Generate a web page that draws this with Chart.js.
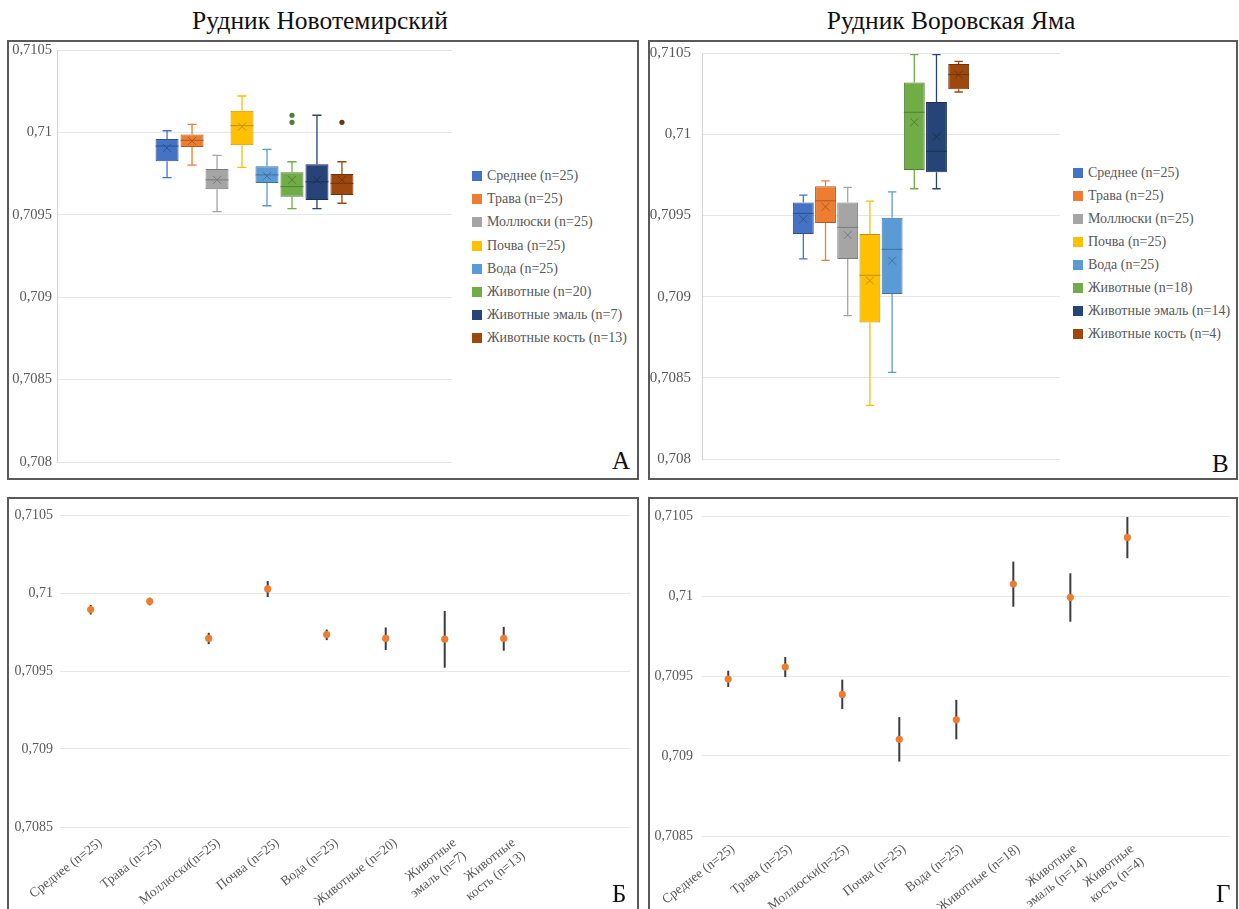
<!DOCTYPE html>
<html lang="ru">
<head>
<meta charset="utf-8">
<title>Рудник Новотемирский / Рудник Воровская Яма</title>
<script src="https://cdn.jsdelivr.net/npm/chart.js@4.4.1/dist/chart.umd.min.js"></script>
<style>
  html, body { margin: 0; padding: 0; }
  body { width: 1239px; height: 909px; position: relative; overflow: hidden; background: #fff;
         font-family: 'Liberation Serif', 'Times New Roman', serif; }
  .title { position: absolute; top: 8px; width: 400px; text-align: center; font-size: 25.5px; line-height: 26px; color: #111; }
  .panel { position: absolute; box-sizing: border-box; border: 2px solid #5a5a5a; background: #fff; }
  .panel canvas { position: absolute; left: 0; top: 0; }
  .letter { position: absolute; font-size: 25px; line-height: 25px; color: #111; }
  .lg { position: absolute; white-space: nowrap; font-size: 14px; line-height: 16px; color: #595959; }
  .lg i { display: inline-block; width: 10px; height: 10px; margin-right: 5px; vertical-align: -1px; }
</style>
</head>
<body>
<div class="title" style="left:120px">Рудник Новотемирский</div>
<div class="title" style="left:751px">Рудник Воровская Яма</div>

<div class="panel" id="pA" style="left:7px; top:40px; width:632px; height:440px;">
  <canvas id="chartA" width="455" height="436"></canvas>
</div>
<div class="panel" id="pB" style="left:648px; top:40px; width:590px; height:440px;">
  <canvas id="chartB" width="420" height="436"></canvas>
</div>
<div class="panel" id="pC" style="left:7px; top:497px; width:632px; height:420px;">
  <canvas id="chartC" width="628" height="410"></canvas>
</div>
<div class="panel" id="pD" style="left:648px; top:497px; width:590px; height:420px;">
  <canvas id="chartD" width="586" height="410"></canvas>
</div>

<div class="letter" style="left:612px; top:448px;">А</div>
<div class="letter" style="left:1212px; top:451px;">В</div>
<div class="letter" style="left:612px; top:881px;">Б</div>
<div class="letter" style="left:1216px; top:881px;">Г</div>

<script>
// ---- data: box plots (А — Новотемирский, В — Воровская Яма) ----
const namesA = ['Среднее (n=25)', 'Трава (n=25)', 'Моллюски (n=25)', 'Почва (n=25)', 'Вода (n=25)',
                'Животные (n=20)', 'Животные эмаль (n=7)', 'Животные кость (n=13)'];
const minA  = [0.709725, 0.709802, 0.709519, 0.709788, 0.709555, 0.709537, 0.709537, 0.709570];
const q1A   = [0.709825, 0.709911, 0.709655, 0.709922, 0.709693, 0.709610, 0.709590, 0.709620];
const medA  = [0.709917, 0.709952, 0.709712, 0.710041, 0.709742, 0.709671, 0.709700, 0.709691];
const q3A   = [0.709960, 0.709988, 0.709778, 0.710132, 0.709794, 0.709758, 0.709806, 0.709748];
const maxA  = [0.710010, 0.710049, 0.709861, 0.710221, 0.709897, 0.709822, 0.710104, 0.709822];
const meanA = [0.709905, 0.709948, 0.709712, 0.710035, 0.709735, 0.709712, 0.709712, 0.709712];
const outA  = [[], [], [], [], [], [0.710104, 0.710061], [], [0.710061]];

const namesB = ['Среднее (n=25)', 'Трава (n=25)', 'Моллюски (n=25)', 'Почва (n=25)', 'Вода (n=25)',
                'Животные (n=18)', 'Животные эмаль (n=14)', 'Животные кость (n=4)'];
const minB  = [0.709232, 0.709223, 0.708883, 0.708330, 0.708533, 0.709664, 0.709664, 0.710260];
const q1B   = [0.709385, 0.709453, 0.709232, 0.708840, 0.709016, 0.709779, 0.709766, 0.710277];
const medB  = [0.709512, 0.709590, 0.709426, 0.709131, 0.709291, 0.710135, 0.709895, 0.710367];
const q3B   = [0.709580, 0.709680, 0.709580, 0.709385, 0.709486, 0.710318, 0.710199, 0.710432];
const maxB  = [0.709625, 0.709713, 0.709672, 0.709588, 0.709645, 0.710490, 0.710490, 0.710449];
const meanB = [0.709477, 0.709553, 0.709379, 0.709098, 0.709221, 0.710074, 0.709984, 0.710367];
const outB  = [[], [], [], [], [], [], [], []];

// ---- data: means with error bars (Б, Г) ----
const catsC = ['Среднее (n=25)', 'Трава (n=25)', 'Моллюски(n=25)', 'Почва (n=25)', 'Вода (n=25)',
               'Животные (n=20)', ['Животные', 'эмаль (n=7)'], ['Животные', 'кость (n=13)']];
const meanC = [0.709894, 0.709947, 0.709709, 0.710026, 0.709734, 0.709709, 0.709704, 0.709709];
const loC   = [0.709862, 0.709921, 0.709672, 0.709974, 0.709698, 0.709634, 0.709521, 0.709630];
const hiC   = [0.709923, 0.709970, 0.709745, 0.710077, 0.709766, 0.709779, 0.709885, 0.709783];

const catsD = ['Среднее (n=25)', 'Трава (n=25)', 'Моллюски(n=25)', 'Почва (n=25)', 'Вода (n=25)',
               'Животные (n=18)', ['Животные', 'эмаль (n=14)'], ['Животные', 'кость (n=4)']];
const meanD = [0.709481, 0.709556, 0.709385, 0.709104, 0.709226, 0.710075, 0.709992, 0.710366];
const loD   = [0.709431, 0.709494, 0.709293, 0.708965, 0.709104, 0.709933, 0.709839, 0.710236];
const hiD   = [0.709533, 0.709619, 0.709477, 0.709243, 0.709351, 0.710215, 0.710142, 0.710494];

const FILL = ['#4472C4', '#ED7D31', '#A5A5A5', '#FFC000', '#5B9BD5', '#70AD47', '#264478', '#9E480E'];
const EDGE = ['#2F528F', '#AE5A21', '#7B7B7B', '#BF9000', '#41719C', '#507E32', '#1A2F54', '#71340A'];
const SERIF = "'Liberation Serif', 'Times New Roman', serif";
const TXT = '#595959';

const fmtTick = v => String(+(+v).toFixed(4)).replace('.', ',');

function yScale(min, max, width, size, pad, showBorder) {
  return {
    min, max,
    ticks: { stepSize: 0.0005, color: TXT, font: { family: SERIF, size }, padding: pad, callback: fmtTick },
    grid: { color: '#e6e6e6', drawTicks: false },
    border: { display: showBorder, color: '#d4d4d4' },
    afterFit: s => { s.width = width; s.paddingTop = 0; s.paddingBottom = 0; }
  };
}

// whiskers, median, mean cross and outliers, placed through the chart's own scales
function boxExtras(lo, med, hi, mean, outl) {
  return {
    id: 'boxExtras',
    afterDatasetsDraw(chart) {
      const ys = chart.scales.y, ctx = chart.ctx;
      ctx.save();
      chart.data.datasets.forEach((ds, i) => {
        const el = chart.getDatasetMeta(i).data[0];
        if (!el) return;
        const x = el.x, hw = el.width / 2, cap = el.width * 0.2;
        const yTop = ys.getPixelForValue(Math.max(...ds.data[0]));
        const yBot = ys.getPixelForValue(Math.min(...ds.data[0]));
        const yHi = ys.getPixelForValue(hi[i]), yLo = ys.getPixelForValue(lo[i]);
        ctx.strokeStyle = FILL[i];
        ctx.lineWidth = 1.3;
        ctx.beginPath();
        ctx.moveTo(x, yTop); ctx.lineTo(x, yHi);
        ctx.moveTo(x - cap, yHi); ctx.lineTo(x + cap, yHi);
        ctx.moveTo(x, yBot); ctx.lineTo(x, yLo);
        ctx.moveTo(x - cap, yLo); ctx.lineTo(x + cap, yLo);
        ctx.stroke();
        // median
        ctx.strokeStyle = EDGE[i];
        ctx.lineWidth = 1;
        const ym = ys.getPixelForValue(med[i]);
        ctx.beginPath();
        ctx.moveTo(x - hw, ym); ctx.lineTo(x + hw, ym);
        ctx.stroke();
        // mean (x mark)
        const ya = ys.getPixelForValue(mean[i]), r = 4;
        ctx.beginPath();
        ctx.moveTo(x - r, ya - r); ctx.lineTo(x + r, ya + r);
        ctx.moveTo(x - r, ya + r); ctx.lineTo(x + r, ya - r);
        ctx.stroke();
        // outliers
        ctx.fillStyle = EDGE[i];
        (outl[i] || []).forEach(v => {
          ctx.beginPath();
          ctx.arc(x, ys.getPixelForValue(v), 2.6, 0, Math.PI * 2);
          ctx.fill();
        });
      });
      ctx.restore();
    }
  };
}

function errBars(lo, hi) {
  return {
    id: 'errBars',
    beforeDatasetsDraw(chart) {
      const xs = chart.scales.x, ys = chart.scales.y, ctx = chart.ctx;
      ctx.save();
      ctx.strokeStyle = '#3c3c3c';
      ctx.lineWidth = 2;
      lo.forEach((v, i) => {
        const x = xs.getPixelForValue(i + 1);
        ctx.beginPath();
        ctx.moveTo(x, ys.getPixelForValue(v));
        ctx.lineTo(x, ys.getPixelForValue(hi[i]));
        ctx.stroke();
      });
      ctx.restore();
    }
  };
}

function htmlLegend(panelId, names, left, top, step) {
  const p = document.getElementById(panelId);
  names.forEach((n, i) => {
    const d = document.createElement('div');
    d.className = 'lg';
    d.style.left = left + 'px';
    d.style.top = (top + i * step - 8) + 'px';
    d.innerHTML = `<i style="background:${FILL[i]}"></i>${n}`;
    p.appendChild(d);
  });
}

function boxChart(id, names, lo, q1, med, q3, hi, mean, outl, o) {
  return new Chart(document.getElementById(id), {
    type: 'bar',
    data: {
      labels: [''],
      datasets: names.map((n, i) => ({
        label: n, data: [[q1[i], q3[i]]],
        backgroundColor: FILL[i], borderColor: EDGE[i], borderWidth: 1, borderSkipped: false,
        barPercentage: o.bp, categoryPercentage: o.cp
      }))
    },
    options: {
      responsive: false, animation: false,
      layout: { padding: o.padding },
      plugins: { legend: { display: false }, tooltip: { enabled: false } },
      scales: {
        x: { display: false },
        y: yScale(0.708, 0.7105, o.yw, o.fs, o.tp, true)
      }
    },
    plugins: [boxExtras(lo, med, hi, mean, outl)]
  });
}

function meanChart(id, cats, mean, lo, hi, o) {
  return new Chart(document.getElementById(id), {
    type: 'scatter',
    data: {
      datasets: [{
        label: 'mean', data: mean.map((m, i) => ({ x: i + 1, y: m })),
        pointRadius: 3.6, pointBackgroundColor: '#ED7D31', pointBorderWidth: 0, showLine: false
      }]
    },
    options: {
      responsive: false, animation: false,
      layout: { padding: o.padding },
      plugins: { legend: { display: false }, tooltip: { enabled: false } },
      scales: {
        x: {
          type: 'linear', min: o.xmin, max: o.xmax,
          afterBuildTicks: s => { s.ticks = cats.map((_, i) => ({ value: i + 1 })); },
          ticks: {
            autoSkip: false, minRotation: 38, maxRotation: 38, padding: o.lp, labelOffset: o.lo,
            color: TXT, font: { family: SERIF, size: 13.5 },
            callback: v => cats[Math.round(v) - 1] || ''
          },
          grid: { display: false }, border: { display: false },
          afterFit: s => { s.height = o.xh; s.paddingLeft = 0; s.paddingRight = 0; }
        },
        y: yScale(0.7085, 0.7105, o.yw, 14, o.tp, false)
      }
    },
    plugins: [errBars(lo, hi)]
  });
}

boxChart('chartA', namesA, minA, q1A, medA, q3A, maxA, meanA, outA,
  { bp: 0.92, cp: 0.506, yw: 48, fs: 14.5, tp: 5, padding: { left: 0, top: 8, right: 12, bottom: 16 } });
boxChart('chartB', namesB, minB, q1B, medB, q3B, maxB, meanB, outB,
  { bp: 0.94, cp: 0.496, yw: 52, fs: 15, tp: 11, padding: { left: 0, top: 11, right: 10, bottom: 19 } });
meanChart('chartC', catsC, meanC, loC, hiC,
  { xmin: 0.48, xmax: 10.14, xh: 82, yw: 51, tp: 7, lp: 0, lo: 10, padding: { left: 0, top: 16, right: 7, bottom: 0 } });
meanChart('chartD', catsD, meanD, loD, hiD,
  { xmin: 0.54, xmax: 9.8, xh: 73, yw: 52, tp: 9, lp: -3, lo: 5, padding: { left: 0, top: 17, right: 6, bottom: 0 } });

htmlLegend('pA', namesA, 463, 134, 23.2);
htmlLegend('pB', namesB, 423, 130.7, 23.1);
</script>
</body>
</html>
